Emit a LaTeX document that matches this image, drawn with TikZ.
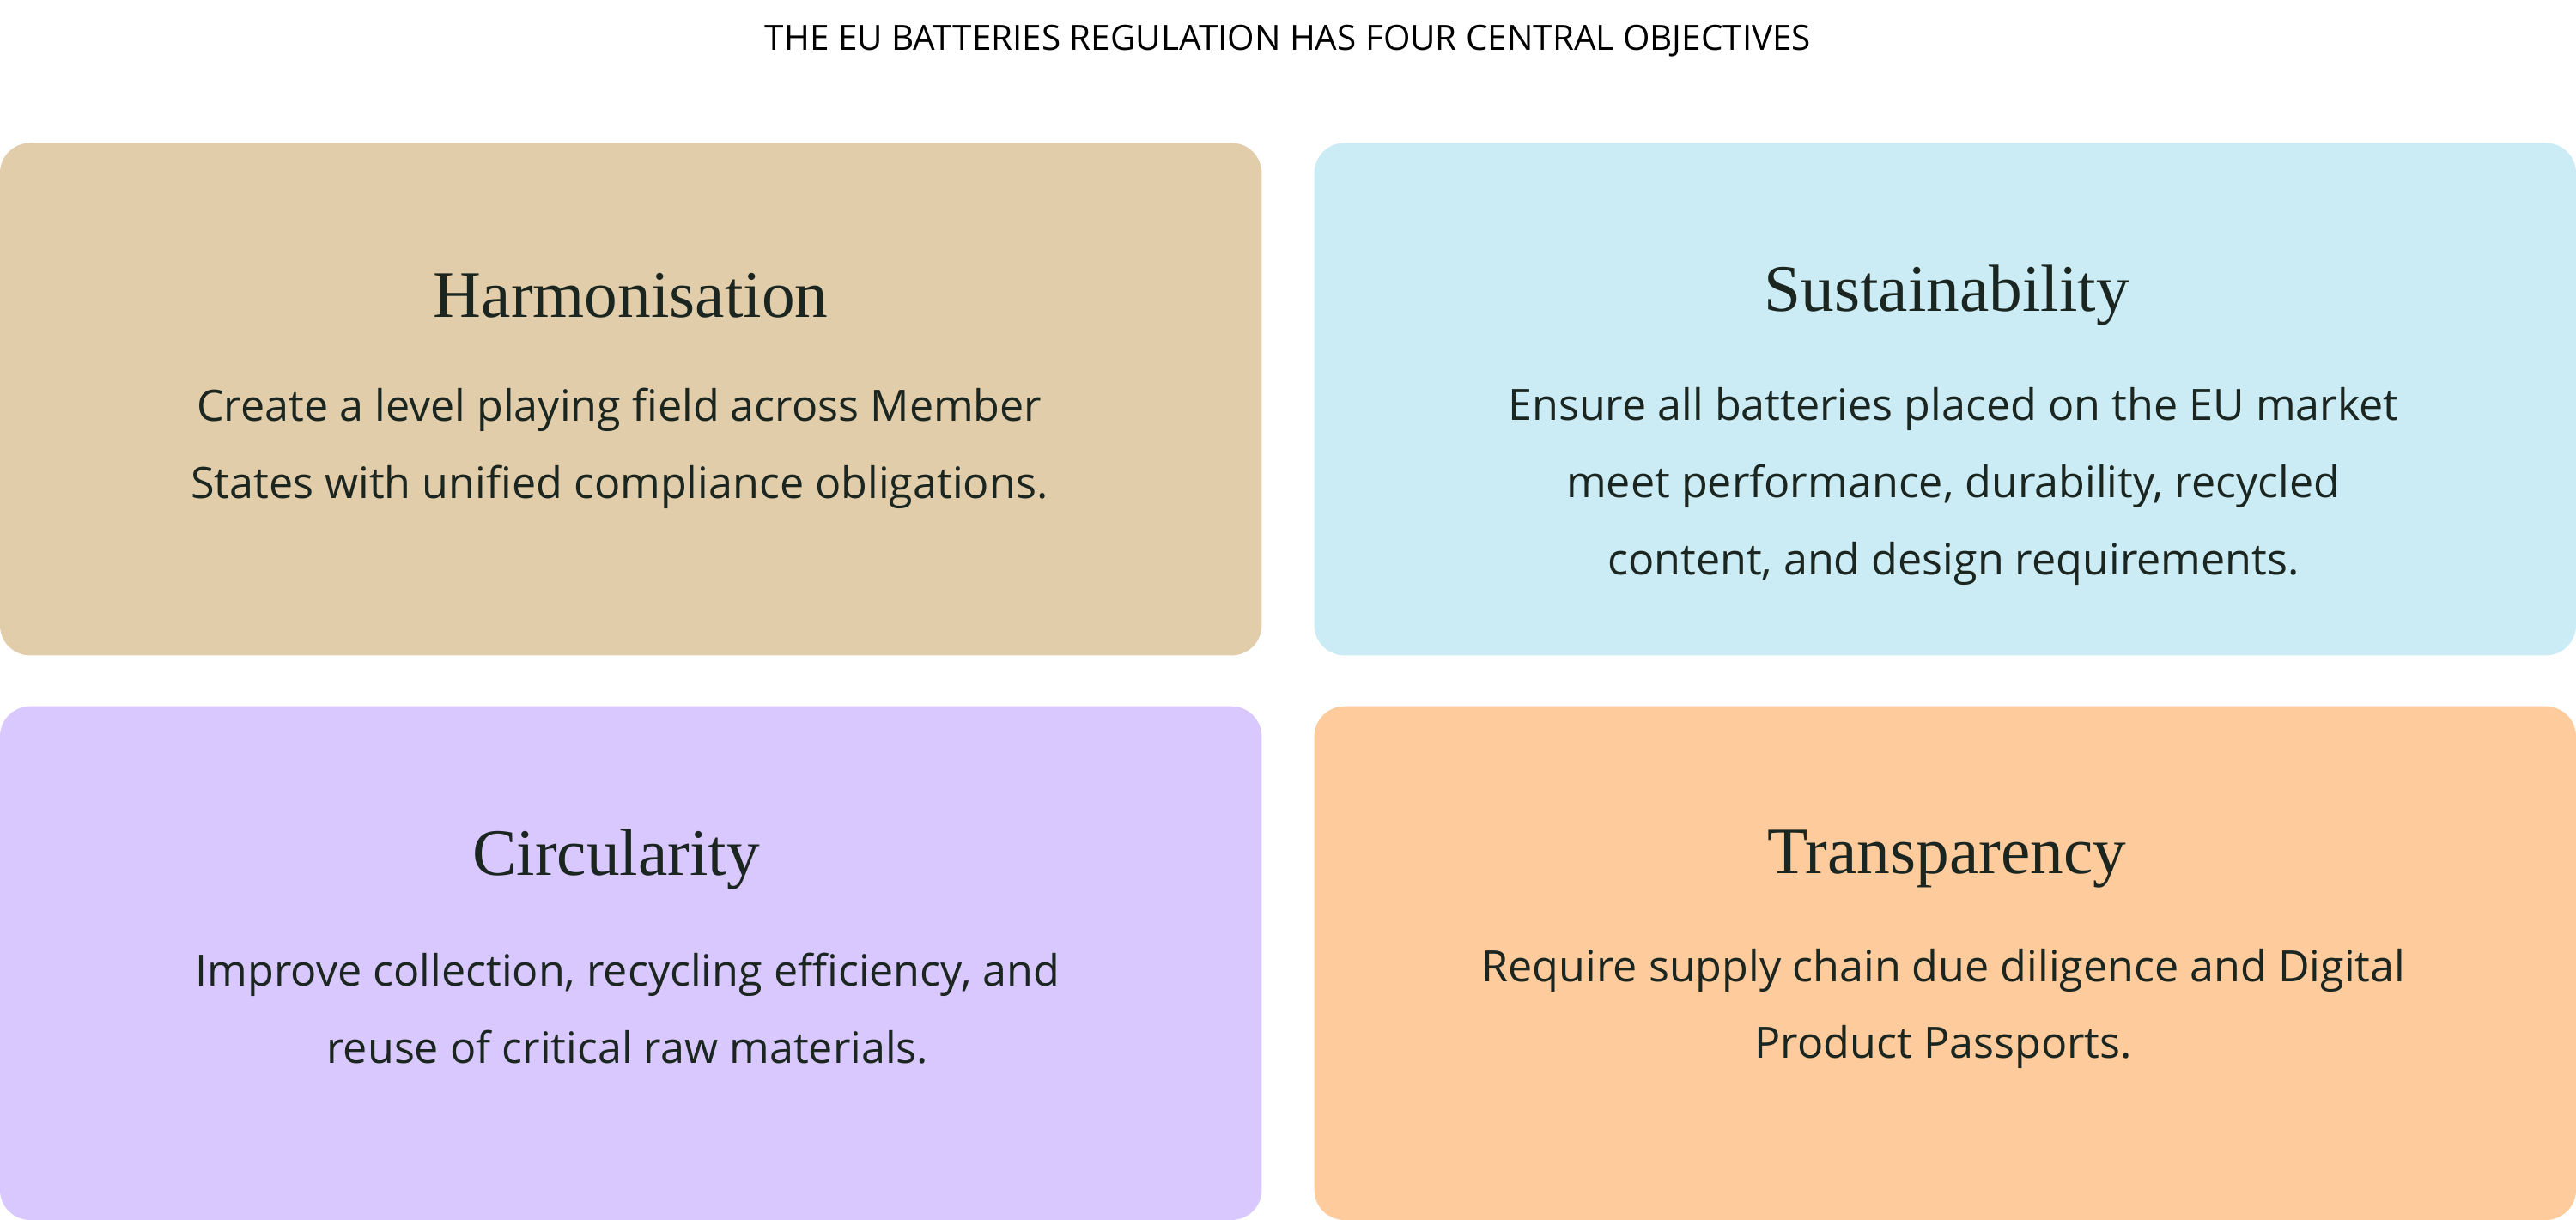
\documentclass[tikz,border=0pt]{standalone}
\usepackage{fontspec}
\setmainfont{Open Sans}
\newfontfamily\headfont{Liberation Serif}
\definecolor{tan}{HTML}{E2CDAA}
\definecolor{sky}{HTML}{CBEBF5}
\definecolor{lav}{HTML}{D8C8FD}
\definecolor{peach}{HTML}{FDCB9C}
\definecolor{ink}{HTML}{1B2620}
\begin{document}
\begin{tikzpicture}[x=0.019133cm,y=-0.019133cm,
  card/.style={rounded corners=10pt,draw=none},
  head/.style={font=\headfont\fontsize{22}{26}\selectfont,text=ink},
  body/.style={font=\fontsize{14.3}{25.5}\selectfont,text=ink,align=center}]
\useasboundingbox (0,0) rectangle (1568,742.7);
\node[font=\fontsize{11.5}{14}\selectfont,text=black] (title) at (784,25) {THE EU BATTERIES REGULATION HAS FOUR CENTRAL OBJECTIVES};
\fill[tan,card] (0,87) rectangle (768,399);
\fill[sky,card] (800,87) rectangle (1568,399);
\fill[lav,card] (0,430) rectangle (768,742.7);
\fill[peach,card] (800,430) rectangle (1568,742.7);
\node[head] (h1) at (384,180) {Harmonisation};
\node[body] (b1) at (377,273) {Create a level playing field across Member\\States with unified compliance obligations.};
\node[head] (h2) at (1185,180) {Sustainability};
\node[body] (b2) at (1189,296) {Ensure all batteries placed on the EU market\\meet performance, durability, recycled\\content, and design requirements.};
\node[head] (h3) at (375,523) {Circularity};
\node[body] (b3) at (382,614) {Improve collection, recycling efficiency, and\\reuse of critical raw materials.};
\node[head] (h4) at (1185,523) {Transparency};
\node[body] (b4) at (1183,614) {Require supply chain due diligence and Digital\\Product Passports.};
\end{tikzpicture}
\end{document}
